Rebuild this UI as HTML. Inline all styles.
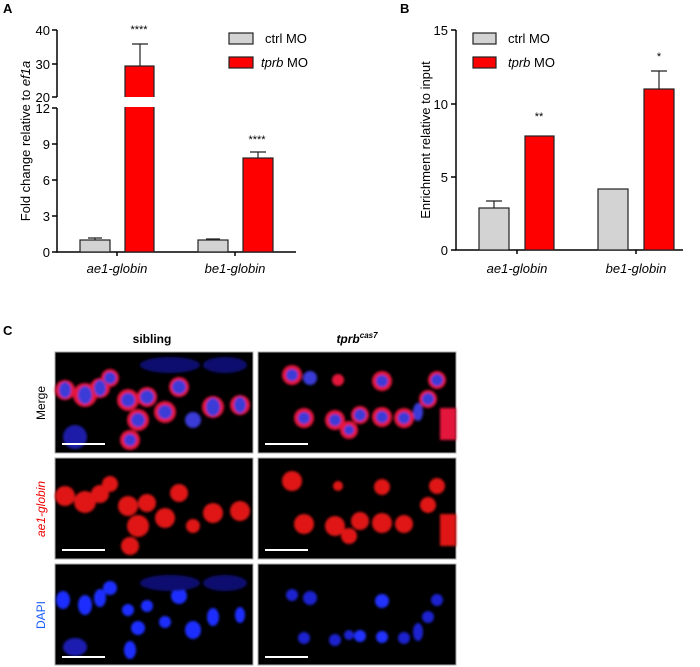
<!DOCTYPE html><html><head><style>body{margin:0;background:#fff}svg{display:block;font-family:"Liberation Sans",Arial,sans-serif}</style></head><body>
<svg width="700" height="667" viewBox="0 0 700 667">
<defs><filter id="b"><feGaussianBlur stdDeviation="1.2"/></filter></defs>
<g font-weight="bold" font-size="13"><text x="3" y="13">A</text><text x="400" y="13">B</text><text x="3" y="335">C</text></g>
<!-- Panel A -->
<g stroke="#000" stroke-width="1.5" fill="none">
<path d="M57,30V97M57,108V252H296"/>
<path d="M52,30H57M52,64H57M52,97H57M52,108H57M52,144H57M52,180H57M52,216H57M52,252H57"/>
<path d="M117,252v4M235,252v4"/>
</g>
<g font-size="13" text-anchor="end"><text x="50" y="35">40</text><text x="50" y="69">30</text><text x="50" y="102">20</text><text x="50" y="113">12</text><text x="50" y="149">9</text><text x="50" y="185">6</text><text x="50" y="221">3</text><text x="50" y="257">0</text></g>
<text transform="translate(30,141) rotate(-90)" font-size="13" text-anchor="middle">Fold change relative to <tspan font-style="italic">ef1a</tspan></text>
<g stroke="#222" stroke-width="1.2">
<path d="M95,240V238M88,238H102"/>
<rect x="80" y="240" width="30" height="12" fill="#d3d3d3"/>
<path d="M140,66V44M132,44H148M258,158V152M250,152H266"/>
<rect x="125" y="66" width="29" height="186" fill="#f00"/>
<path d="M213,240V239M206,239H220"/>
<rect x="198" y="240" width="30" height="12" fill="#d3d3d3"/>
<rect x="243" y="158" width="30" height="94" fill="#f00"/>
</g>
<rect x="122" y="97" width="36" height="10" fill="#fff"/>
<g font-size="11" text-anchor="middle"><text x="139" y="33">****</text><text x="257" y="143">****</text></g>
<g font-size="13" font-style="italic" text-anchor="middle"><text x="117" y="273">ae1-globin</text><text x="235" y="273">be1-globin</text></g>
<g stroke="#222" stroke-width="1.2"><rect x="229" y="33" width="24" height="11" fill="#d3d3d3"/><rect x="229" y="57" width="24" height="11" fill="#f00"/></g>
<g font-size="13"><text x="265" y="43">ctrl MO</text><text x="261" y="67"><tspan font-style="italic">tprb</tspan> MO</text></g>
<!-- Panel B -->
<g stroke="#000" stroke-width="1.5" fill="none">
<path d="M456,30V250H683"/>
<path d="M451,30H456M451,104H456M451,177H456M451,250H456"/>
<path d="M517,250v4M636,250v4"/>
</g>
<g font-size="13" text-anchor="end"><text x="448" y="35">15</text><text x="448" y="109">10</text><text x="448" y="182">5</text><text x="448" y="255">0</text></g>
<text transform="translate(430,140) rotate(-90)" font-size="13" text-anchor="middle">Enrichment relative to input</text>
<g stroke="#222" stroke-width="1.2">
<path d="M494,208V201M486,201H502M659,89V71M651,71H667"/>
<rect x="479" y="208" width="30" height="42" fill="#d3d3d3"/>
<rect x="525" y="136" width="29" height="114" fill="#f00"/>
<rect x="598" y="189" width="30" height="61" fill="#d3d3d3"/>
<rect x="644" y="89" width="30" height="161" fill="#f00"/>
</g>
<g font-size="11" text-anchor="middle"><text x="539" y="120">**</text><text x="659" y="60">*</text></g>
<g font-size="13" font-style="italic" text-anchor="middle"><text x="517" y="273">ae1-globin</text><text x="636" y="273">be1-globin</text></g>
<g stroke="#222" stroke-width="1.2"><rect x="473" y="33" width="23" height="11" fill="#d3d3d3"/><rect x="473" y="57" width="23" height="11" fill="#f00"/></g>
<g font-size="13"><text x="508" y="43">ctrl MO</text><text x="508" y="67"><tspan font-style="italic">tprb</tspan> MO</text></g>
<!-- Panel C -->
<g font-size="12" font-weight="bold" text-anchor="middle"><text x="152" y="343">sibling</text><text x="357" y="343" font-style="italic">tprb<tspan font-size="8" dy="-5">cas7</tspan></text></g>
<g font-size="12" text-anchor="middle">
<text transform="translate(45,403) rotate(-90)">Merge</text>
<text transform="translate(45,509) rotate(-90)" fill="#e00" font-style="italic">ae1-globin</text>
<text transform="translate(45,615) rotate(-90)" fill="#1a5cff">DAPI</text>
</g>
<g stroke="#aaa" stroke-width="1">
<rect x="55" y="352" width="198" height="101" fill="#000"/><rect x="258" y="352" width="198" height="101" fill="#000"/>
<rect x="55" y="458" width="198" height="101" fill="#000"/><rect x="258" y="458" width="198" height="101" fill="#000"/>
<rect x="55" y="564" width="198" height="101" fill="#000"/><rect x="258" y="564" width="198" height="101" fill="#000"/>
</g>
<!-- sibling merge -->
<g filter="url(#b)">
<g fill="#e5183a"><circle cx="65" cy="390" r="10"/><circle cx="85" cy="395" r="12"/><circle cx="100" cy="388" r="10"/><circle cx="110" cy="378" r="9"/><circle cx="128" cy="400" r="11"/><circle cx="147" cy="397" r="10"/><circle cx="179" cy="387" r="10"/><circle cx="138" cy="420" r="11"/><circle cx="165" cy="412" r="11"/><circle cx="213" cy="407" r="11"/><circle cx="240" cy="405" r="10"/><circle cx="130" cy="440" r="10"/></g>
<g fill="#3a3ad8"><ellipse cx="65" cy="390" rx="6" ry="8"/><ellipse cx="85" cy="395" rx="7" ry="9"/><ellipse cx="100" cy="388" rx="6" ry="8"/><circle cx="110" cy="378" r="6"/><circle cx="128" cy="400" r="7"/><circle cx="147" cy="397" r="7"/><circle cx="179" cy="387" r="7"/><circle cx="138" cy="420" r="7"/><circle cx="165" cy="412" r="7"/><circle cx="193" cy="420" r="8"/><ellipse cx="213" cy="407" rx="7" ry="9"/><ellipse cx="240" cy="405" rx="6" ry="8"/><circle cx="130" cy="440" r="6"/><circle cx="75" cy="437" r="12" fill="#1c1ca8"/><ellipse cx="170" cy="365" rx="30" ry="8" fill="#101070"/><ellipse cx="225" cy="365" rx="22" ry="8" fill="#101070"/></g>
<!-- mutant merge -->
<g fill="#e5183a"><circle cx="292" cy="375" r="10"/><circle cx="304" cy="418" r="10"/><circle cx="335" cy="420" r="10"/><circle cx="349" cy="430" r="9"/><circle cx="360" cy="415" r="9"/><circle cx="382" cy="417" r="10"/><circle cx="382" cy="381" r="10"/><circle cx="404" cy="418" r="10"/><circle cx="437" cy="380" r="9"/><circle cx="428" cy="399" r="9"/><circle cx="338" cy="380" r="6"/><rect x="440" y="408" width="16" height="32"/></g>
<g fill="#3a3ad8"><circle cx="292" cy="375" r="6"/><circle cx="310" cy="378" r="7"/><circle cx="304" cy="418" r="6"/><circle cx="335" cy="420" r="6"/><circle cx="349" cy="430" r="5"/><circle cx="360" cy="415" r="6"/><circle cx="382" cy="417" r="6"/><circle cx="382" cy="381" r="6"/><circle cx="404" cy="418" r="6"/><circle cx="437" cy="380" r="6"/><circle cx="428" cy="399" r="6"/><ellipse cx="418" cy="412" rx="5" ry="9"/></g>
<!-- ae1 sibling -->
<g fill="#e01818"><circle cx="65" cy="496" r="10"/><circle cx="85" cy="502" r="11"/><circle cx="100" cy="494" r="9"/><circle cx="110" cy="484" r="8"/><circle cx="128" cy="506" r="10"/><circle cx="147" cy="503" r="9"/><circle cx="179" cy="493" r="9"/><circle cx="138" cy="526" r="11"/><circle cx="165" cy="518" r="10"/><circle cx="213" cy="513" r="10"/><circle cx="240" cy="511" r="10"/><circle cx="130" cy="546" r="9"/><circle cx="193" cy="526" r="7"/></g>
<g fill="#e01818"><circle cx="292" cy="481" r="10"/><circle cx="304" cy="524" r="10"/><circle cx="335" cy="526" r="10"/><circle cx="349" cy="536" r="8"/><circle cx="360" cy="521" r="9"/><circle cx="382" cy="523" r="10"/><circle cx="382" cy="487" r="8"/><circle cx="404" cy="524" r="9"/><circle cx="437" cy="486" r="8"/><circle cx="428" cy="505" r="8"/><circle cx="338" cy="486" r="5"/><rect x="440" y="514" width="16" height="32"/></g>
<!-- DAPI -->
<g fill="#1e2fff"><ellipse cx="63" cy="600" rx="7" ry="9"/><ellipse cx="85" cy="605" rx="7" ry="10"/><ellipse cx="100" cy="598" rx="6" ry="9"/><circle cx="110" cy="588" r="7"/><circle cx="128" cy="610" r="6"/><circle cx="147" cy="606" r="6"/><ellipse cx="179" cy="596" rx="8" ry="8"/><circle cx="138" cy="628" r="7"/><circle cx="165" cy="622" r="6"/><ellipse cx="193" cy="630" rx="8" ry="9"/><ellipse cx="213" cy="617" rx="6" ry="9"/><ellipse cx="240" cy="615" rx="5" ry="8"/><ellipse cx="130" cy="650" rx="6" ry="9"/><ellipse cx="75" cy="647" rx="12" ry="9" fill="#1a1ab0"/><ellipse cx="170" cy="583" rx="30" ry="8" fill="#101070"/><ellipse cx="225" cy="583" rx="22" ry="8" fill="#101070"/></g>
<g fill="#1a24d0"><circle cx="292" cy="595" r="6"/><circle cx="310" cy="598" r="7"/><circle cx="304" cy="638" r="6"/><circle cx="335" cy="640" r="6"/><circle cx="349" cy="635" r="5"/><circle cx="360" cy="636" r="6" fill="#2030ff"/><circle cx="382" cy="637" r="6" fill="#2030ff"/><circle cx="382" cy="601" r="7" fill="#2030ff"/><circle cx="404" cy="638" r="6"/><circle cx="437" cy="600" r="6"/><circle cx="428" cy="617" r="6"/><ellipse cx="418" cy="632" rx="5" ry="9"/></g>
</g>
<g stroke="#fff" stroke-width="2"><path d="M62,444H105M265,444H308M62,550H105M265,550H308M62,657H105M265,657H308"/></g>
</svg></body></html>
